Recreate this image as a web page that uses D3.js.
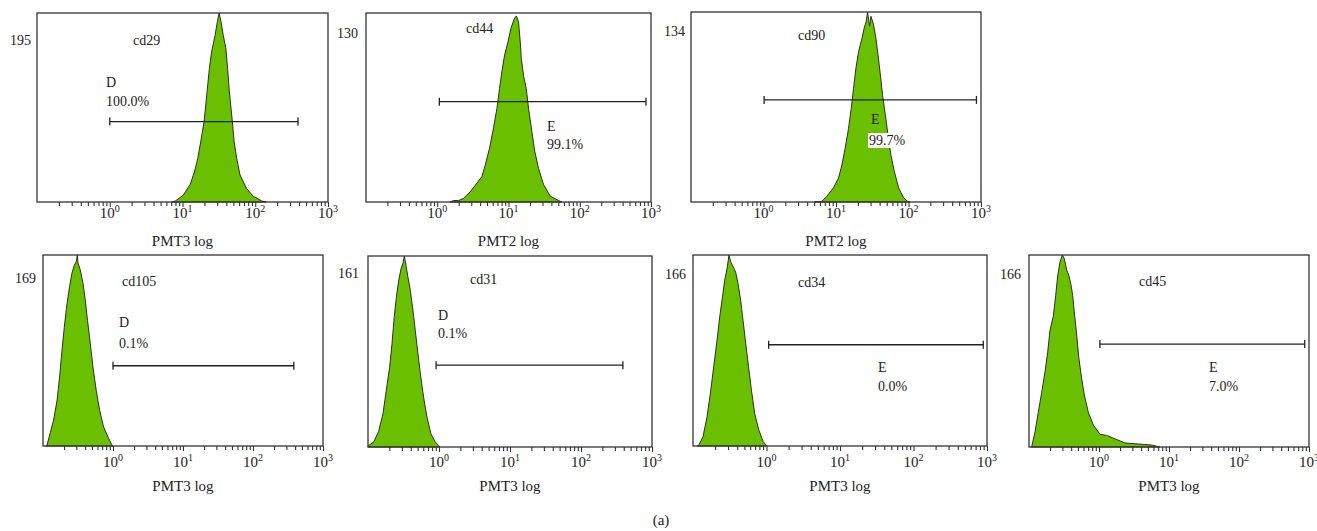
<!DOCTYPE html>
<html lang="en">
<head>
<meta charset="utf-8">
<title>Flow cytometry histograms</title>
<script src="https://d3js.org/d3.v7.min.js"></script>
<style>
body { margin: 0; background: #fff; }
text { font-family: "Liberation Serif", "DejaVu Serif", serif; font-size: 14px; fill: #222; }
.tick-label, .axis-title { font-size: 15px; }
</style>
</head>
<body>
<div id="my_dataviz"></div>
<script>

// ---------------------------//
//            DATA            //
// ---------------------------//

var markers = ["cd29", "cd44", "cd90", "cd105", "cd31", "cd34", "cd45"];
var channels = ["PMT3 log", "PMT2 log", "PMT2 log", "PMT3 log", "PMT3 log", "PMT3 log", "PMT3 log"];
var yMax = [195, 130, 134, 169, 161, 166, 166];
var gateNames = ["D", "E", "E", "D", "D", "E", "E"];
var gatePct = ["100.0%", "99.1%", "99.7%", "0.1%", "0.1%", "0.0%", "7.0%"];
var gateFrom = [1, 1.07, 1.02, 1, 0.91, 1.07, 1.03];
var gateTo = [387, 850, 865, 383, 389, 890, 870];
var gateLevel = [83, 69, 72, 71, 69, 88, 89];
var decades = [0, 1, 2, 3];

// histogram outlines: log10 intensity / event count
var cd29Exp = [0.85, 0.90, 1.01, 1.105, 1.164, 1.21, 1.25, 1.297, 1.325, 1.347, 1.37, 1.40, 1.448, 1.479, 1.503, 1.53, 1.56, 1.595, 1.62, 1.644, 1.685, 1.71, 1.745, 1.79, 1.88, 1.97, 2.09, 2.15];
var cd29Count = [0, 1, 7, 18, 31, 45, 62, 83, 104, 121, 138, 155, 172, 186, 195, 186, 172, 159, 138, 114, 83, 62, 45, 28, 14, 6, 1, 0];

var cd44Exp = [0.18, 0.229, 0.30, 0.369, 0.463, 0.557, 0.627, 0.674, 0.734, 0.79, 0.838, 0.874, 0.908, 0.945, 0.992, 1.034, 1.081, 1.109, 1.141, 1.165, 1.179, 1.211, 1.249, 1.281, 1.329, 1.368, 1.422, 1.492, 1.586, 1.702, 1.75];
var cd44Count = [0, 1, 1, 2.5, 7, 13, 17.5, 25.5, 37, 51, 64.5, 78, 90, 101, 110, 119.5, 126, 128, 124, 110, 99, 87, 78, 64.5, 48, 35, 23, 12, 4, 1, 0];

var cd90Exp = [0.70, 0.805, 0.874, 0.965, 1.035, 1.081, 1.127, 1.173, 1.21, 1.242, 1.275, 1.311, 1.358, 1.389, 1.417, 1.435, 1.463, 1.482, 1.518, 1.551, 1.579, 1.611, 1.642, 1.68, 1.717, 1.758, 1.804, 1.863, 1.932, 1.988, 2.02];
var cd90Count = [0, 0.5, 4, 10, 17, 26, 38, 52, 66, 80, 94.5, 106, 115.5, 122.7, 127.4, 134, 124, 131, 125, 115.5, 104, 90, 75.6, 61.5, 47.5, 33, 21.6, 10, 3, 0.5, 0];

var cd105Exp = [-0.96, -0.942, -0.895, -0.848, -0.80, -0.763, -0.728, -0.696, -0.657, -0.62, -0.586, -0.553, -0.525, -0.51, -0.50, -0.468, -0.429, -0.396, -0.364, -0.325, -0.287, -0.239, -0.192, -0.135, -0.064, -0.016, 0];
var cd105Count = [0, 1, 12, 23, 40, 61, 85, 105, 126, 141, 153, 160, 163, 169, 162, 156, 144, 129, 111, 91, 70, 49, 32, 17, 7, 1, 0];

var cd31Exp = [-1.0, -0.992, -0.921, -0.851, -0.789, -0.742, -0.696, -0.662, -0.63, -0.601, -0.569, -0.535, -0.507, -0.489, -0.465, -0.437, -0.404, -0.366, -0.334, -0.301, -0.263, -0.217, -0.169, -0.113, -0.052, -0.006, 0.01];
var cd31Count = [0, 1.4, 4, 13, 28, 48, 67, 87, 110, 126, 140, 150, 155, 161, 153, 143, 132, 115, 98, 81, 62, 42, 25, 11, 4, 1.4, 0];

var cd34Exp = [-0.94, -0.919, -0.864, -0.81, -0.763, -0.718, -0.673, -0.637, -0.60, -0.569, -0.537, -0.51, -0.487, -0.464, -0.419, -0.387, -0.35, -0.319, -0.282, -0.245, -0.204, -0.16, -0.105, -0.046, -0.01, 0];
var cd34Count = [0, 1, 8, 25, 46, 69, 92, 112, 129, 144, 154, 166, 160, 157, 151, 141, 126, 109, 89, 69, 48, 28, 14, 4, 1, 0];

var cd45Exp = [-0.97, -0.961, -0.914, -0.867, -0.819, -0.771, -0.733, -0.70, -0.653, -0.619, -0.59, -0.557, -0.524, -0.496, -0.461, -0.429, -0.40, -0.376, -0.353, -0.319, -0.286, -0.247, -0.21, -0.153, -0.081, 0.014, 0.11, 0.229, 0.371, 0.561, 0.753, 0.847, 0.87];
var cd45Count = [0, 0.3, 13, 30, 47, 65, 82, 101, 113, 131, 148, 160, 166, 163, 153, 148, 140, 131, 117, 97, 76, 59, 45, 30, 19, 11, 10, 7, 3.5, 2.6, 1.7, 0.3, 0];

var histExp = [cd29Exp, cd44Exp, cd90Exp, cd105Exp, cd31Exp, cd34Exp, cd45Exp];
var histCount = [cd29Count, cd44Count, cd90Count, cd105Count, cd31Count, cd34Count, cd45Count];

// ---------------------------//
//           LAYOUT           //
// ---------------------------//

// plot boxes and where the texts sit (baselines)
var layout = [
  { x: 37,   y: 13,  w: 291, h: 189, tickY: 218, axisY: 246, maxX: 31,   maxY: 45,  titleX: 133,  titleY: 45,  gX: 106,  gY: 87,  pX: 106,  pY: 106 },
  { x: 366,  y: 13,  w: 285, h: 189, tickY: 218, axisY: 246, maxX: 358,  maxY: 38,  titleX: 466,  titleY: 33,  gX: 547,  gY: 131, pX: 547,  pY: 149 },
  { x: 691,  y: 12,  w: 290, h: 190, tickY: 218, axisY: 246, maxX: 685,  maxY: 36,  titleX: 798,  titleY: 40,  gX: 871,  gY: 124, pX: 869,  pY: 145, box: true },
  { x: 43,   y: 255, w: 280, h: 191, tickY: 467, axisY: 491, maxX: 36,   maxY: 283, titleX: 122,  titleY: 286, gX: 119,  gY: 327, pX: 119,  pY: 348 },
  { x: 368,  y: 256, w: 284, h: 191, tickY: 467, axisY: 491, maxX: 359,  maxY: 278, titleX: 470,  titleY: 284, gX: 438,  gY: 320, pX: 438,  pY: 338 },
  { x: 693,  y: 255, w: 294, h: 191, tickY: 467, axisY: 491, maxX: 686,  maxY: 279, titleX: 798,  titleY: 287, gX: 878,  gY: 372, pX: 878,  pY: 391 },
  { x: 1029, y: 255, w: 280, h: 192, tickY: 467, axisY: 491, maxX: 1021, maxY: 279, titleX: 1139, titleY: 286, gX: 1209, gY: 372, pX: 1209, pY: 391 }
];

var svg = d3.select("#my_dataviz")
  .append("svg")
    .attr("width", 1317)
    .attr("height", 531);

// minor ticks 0.2 .. 900, majors on the decades
var minorTicks = [];
[-1, 0, 1, 2].forEach(function(d) {
  for (var k = 2; k <= 9; k++) minorTicks.push(k * Math.pow(10, d));
});
var majorTicks = decades.map(function(d) { return Math.pow(10, d); });

markers.forEach(function(name, i) {
  var L = layout[i];

  var x = d3.scaleLog()
    .domain([0.1, 1000])
    .range([L.x, L.x + L.w]);
  var y = d3.scaleLinear()
    .domain([0, yMax[i]])
    .range([L.y + L.h, L.y]);

  var g = svg.append("g");

  // ---------------------------//
  //         HISTOGRAM          //
  // ---------------------------//
  var pts = histExp[i].map(function(e, j) { return { v: Math.pow(10, e), c: histCount[i][j] }; });
  var area = d3.area()
    .x(function(d) { return x(d.v); })
    .y0(y(0))
    .y1(function(d) { return y(d.c); });

  g.append("path")
    .datum(pts)
    .attr("d", area)
    .style("fill", "#6abf00")
    .style("stroke", "#2a3320")
    .style("stroke-width", 1)
    .style("stroke-linejoin", "round");

  // frame
  g.append("rect")
    .attr("x", L.x)
    .attr("y", L.y)
    .attr("width", L.w)
    .attr("height", L.h)
    .style("fill", "none")
    .style("stroke", "#333")
    .style("stroke-width", 1.3);

  // ---------------------------//
  //            AXIS            //
  // ---------------------------//
  var minorAxis = g.append("g")
    .attr("transform", "translate(0," + (L.y + L.h) + ")")
    .call(d3.axisBottom(x).tickValues(minorTicks).tickSize(4).tickFormat(""));
  minorAxis.select(".domain").remove();
  minorAxis.selectAll("line").style("stroke", "#333").style("stroke-width", 1.1);

  var majorAxis = g.append("g")
    .attr("transform", "translate(0," + (L.y + L.h) + ")")
    .call(d3.axisBottom(x).tickValues(majorTicks).tickSize(5).tickFormat(""));
  majorAxis.select(".domain").remove();
  majorAxis.selectAll("line").style("stroke", "#333").style("stroke-width", 1.1);

  decades.forEach(function(d) {
    var t = g.append("text")
      .attr("class", "tick-label")
      .attr("x", x(Math.pow(10, d)))
      .attr("y", L.tickY)
      .attr("text-anchor", "middle");
    t.append("tspan").text("10");
    t.append("tspan")
      .attr("dy", -6)
      .style("font-size", "10px")
      .text(d);
  });

  g.append("text")
    .attr("class", "axis-title")
    .attr("x", (x(1) + x(100)) / 2)
    .attr("y", L.axisY)
    .attr("text-anchor", "middle")
    .text(channels[i]);

  // y max label and marker name
  g.append("text")
    .attr("x", L.maxX)
    .attr("y", L.maxY)
    .attr("text-anchor", "end")
    .text(yMax[i]);

  g.append("text")
    .attr("x", L.titleX)
    .attr("y", L.titleY)
    .text(name);

  // ---------------------------//
  //            GATE            //
  // ---------------------------//
  var gy = y(gateLevel[i]);
  var gx0 = x(gateFrom[i]), gx1 = x(gateTo[i]);
  g.append("line")
    .attr("x1", gx0).attr("x2", gx1)
    .attr("y1", gy).attr("y2", gy)
    .style("stroke", "#222").style("stroke-width", 1.3);
  [gx0, gx1].forEach(function(xx) {
    g.append("line")
      .attr("x1", xx).attr("x2", xx)
      .attr("y1", gy - 4).attr("y2", gy + 4)
      .style("stroke", "#222").style("stroke-width", 1.3);
  });

  g.append("text")
    .attr("x", L.gX)
    .attr("y", L.gY)
    .text(gateNames[i]);

  var pct = g.append("text")
    .attr("x", L.pX)
    .attr("y", L.pY)
    .text(gatePct[i]);

  if (L.box) {
    var bb = pct.node().getBBox();
    g.insert("rect", function() { return pct.node(); })
      .attr("x", bb.x - 1)
      .attr("y", bb.y)
      .attr("width", bb.width + 2)
      .attr("height", bb.height)
      .style("fill", "#fff");
  }
});

// caption
svg.append("text")
  .attr("x", 661)
  .attr("y", 525)
  .attr("text-anchor", "middle")
  .style("font-size", "15px")
  .text("(a)");

</script>
</body>
</html>
